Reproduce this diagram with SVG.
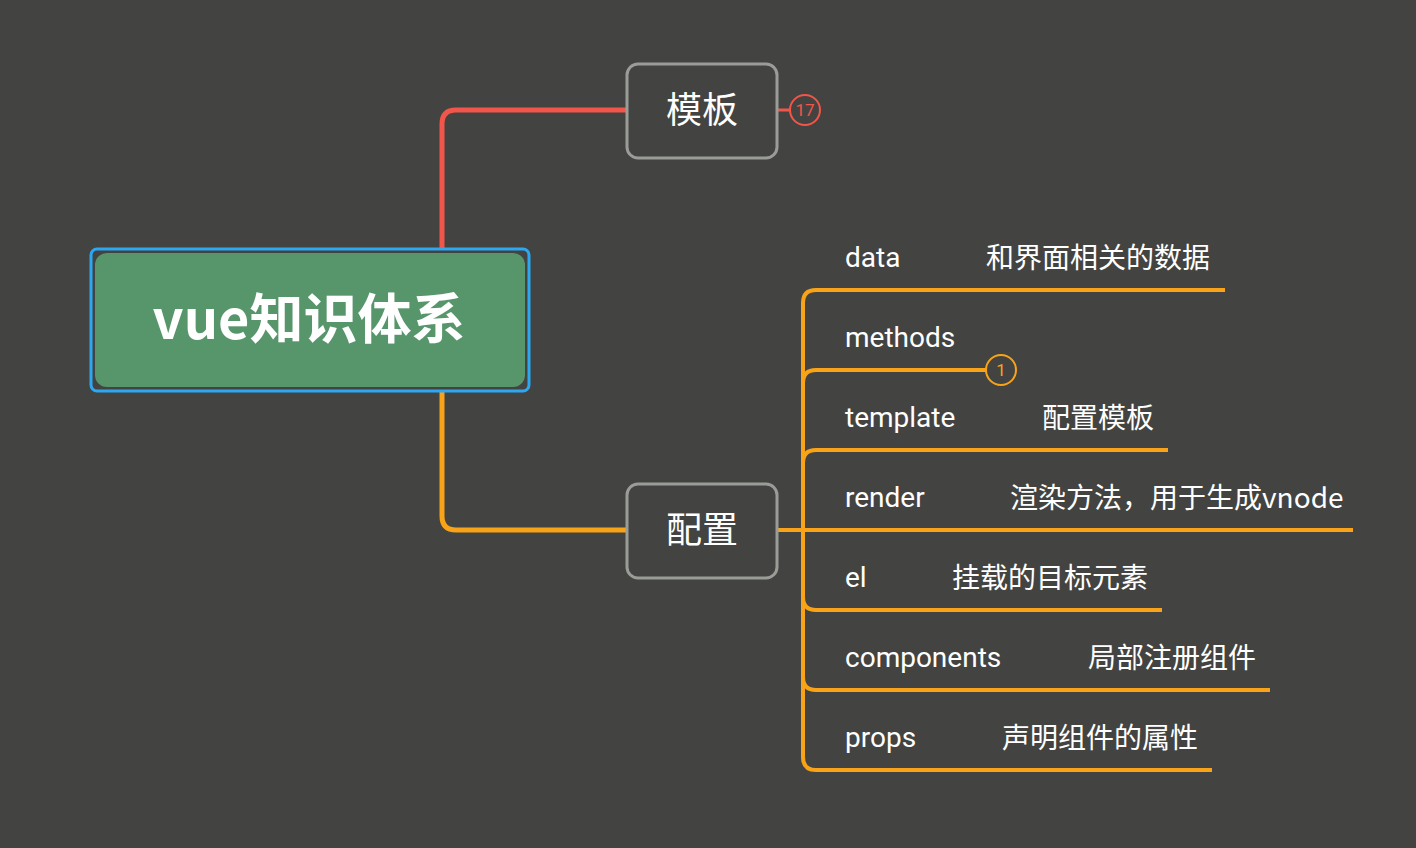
<svg xmlns="http://www.w3.org/2000/svg" width="1416" height="848" viewBox="0 0 1416 848">
<style>
.bg{fill:#434441}
.red{fill:none;stroke:#F2554A;stroke-width:5;stroke-linecap:butt}
.org{fill:none;stroke:#F9A418;stroke-width:4}
.org5{fill:none;stroke:#F9A418;stroke-width:5}
.sub{fill:#434441;stroke:#9A9C97;stroke-width:3}
.subt{font-family:"Noto Sans CJK SC","Noto Sans",sans-serif;font-size:36px;fill:#FFFFFF;text-anchor:middle}
.lab{font-family:Roboto,"Noto Sans CJK SC",sans-serif;font-size:28px;fill:#FFFFFF}
.cn{font-family:"Noto Sans CJK SC",Roboto,sans-serif;font-size:28px;fill:#FFFFFF}
.badge{font-family:Roboto,"Liberation Sans",sans-serif;font-size:17px;text-anchor:middle}
</style>
<rect class="bg" x="0" y="0" width="1416" height="848"/>
<g id="connectors">
  <path class="red" d="M442,250 L442,124 Q442,110 456,110 L628,110"/>
  <path class="org5" d="M442,390 L442,516 Q442,530 456,530 L628,530"/>
  <path class="red" d="M777,110 L790,110" style="stroke-width:3"/>
  <path class="org" d="M777,530 L1353,530"/>
  <path class="org" d="M803,303 L803,757"/>
  <path class="org" d="M803,303 Q803,290 816,290 L1225,290"/>
  <path class="org" d="M803,383 Q803,370 816,370 L986,370"/>
  <path class="org" d="M803,463 Q803,450 816,450 L1168,450"/>
  <path class="org" d="M803,597 Q803,610 816,610 L1162,610"/>
  <path class="org" d="M803,677 Q803,690 816,690 L1270,690"/>
  <path class="org" d="M803,757 Q803,770 816,770 L1212,770"/>
</g>
<g id="root">
  <rect x="91" y="249" width="438" height="142" rx="6" fill="none" stroke="#2CA8F2" stroke-width="3"/>
  <rect x="95" y="253" width="430" height="134" rx="12" fill="#57956B"/>
  <text x="309" y="339" font-family="'Noto Sans CJK SC','Noto Sans',sans-serif" font-size="54" font-weight="bold" fill="#FFFFFF" text-anchor="middle">vue知识体系</text>
</g>
<g id="node-moban">
  <rect class="sub" x="627" y="64" width="150" height="94" rx="11"/>
  <text class="subt" x="702" y="123">模板</text>
</g>
<g id="badge-17">
  <circle cx="805" cy="110" r="15" fill="none" stroke="#F2554A" stroke-width="2"/>
  <text class="badge" x="805" y="116" fill="#F2554A">17</text>
</g>
<g id="node-peizhi">
  <rect class="sub" x="627" y="484" width="150" height="94" rx="11"/>
  <text class="subt" x="702" y="543">配置</text>
</g>
<g id="item-data">
  <text class="lab" x="845" y="267">data</text>
  <text class="cn" x="986" y="268">和界面相关的数据</text>
</g>
<g id="item-methods">
  <text class="lab" x="845" y="347">methods</text>
</g>
<g id="badge-1">
  <circle cx="1001" cy="370" r="15" fill="none" stroke="#F9A418" stroke-width="2"/>
  <text class="badge" x="1001" y="376" fill="#F9A418">1</text>
</g>
<g id="item-template">
  <text class="lab" x="845" y="427">template</text>
  <text class="cn" x="1042" y="428">配置模板</text>
</g>
<g id="item-render">
  <text class="lab" x="845" y="507">render</text>
  <text class="cn" x="1010" y="508">渲染方法，用于生成vnode</text>
</g>
<g id="item-el">
  <text class="lab" x="845" y="587">el</text>
  <text class="cn" x="952" y="588">挂载的目标元素</text>
</g>
<g id="item-components">
  <text class="lab" x="845" y="667">components</text>
  <text class="cn" x="1088" y="668">局部注册组件</text>
</g>
<g id="item-props">
  <text class="lab" x="845" y="747">props</text>
  <text class="cn" x="1002" y="748">声明组件的属性</text>
</g>
</svg>
